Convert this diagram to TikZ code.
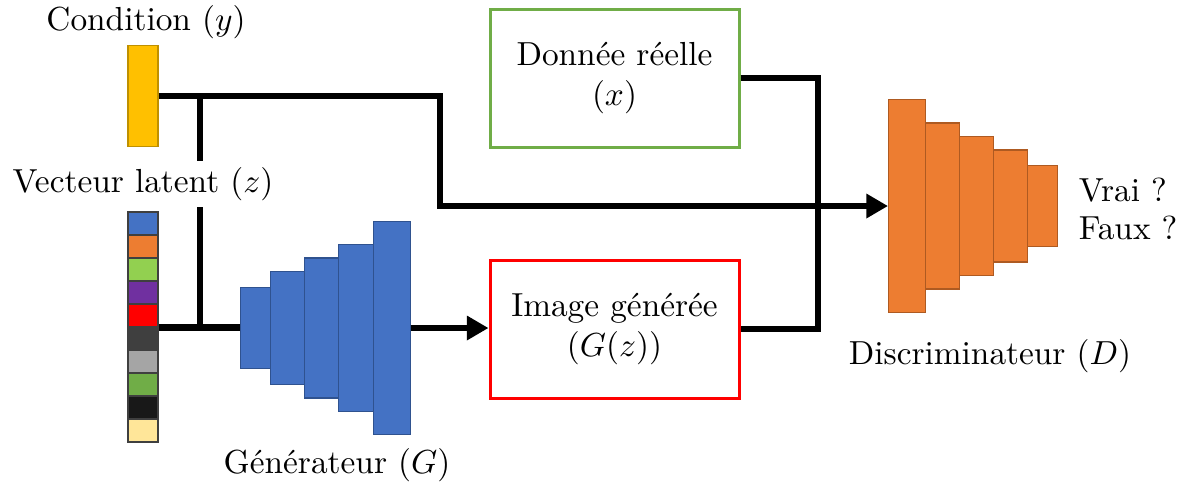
\documentclass[tikz,border=0pt]{standalone}
\usetikzlibrary{arrows.meta}
\usepackage{xcolor}

\definecolor{gblue}{HTML}{4472C4}
\definecolor{gblueedge}{HTML}{2F528F}
\definecolor{dorange}{HTML}{ED7D31}
\definecolor{dorangeedge}{HTML}{AE5A21}
\definecolor{condyellow}{HTML}{FFC000}
\definecolor{condedge}{HTML}{BF9000}
\definecolor{zlime}{HTML}{92D050}
\definecolor{zpurple}{HTML}{7030A0}
\definecolor{zred}{HTML}{FF0000}
\definecolor{zdark}{HTML}{3F3F3F}
\definecolor{zgray}{HTML}{A5A5A5}
\definecolor{zgreen}{HTML}{70AD47}
\definecolor{zblack}{HTML}{181818}
\definecolor{zcream}{HTML}{FFE699}
\definecolor{realgreen}{HTML}{70AD47}

\begin{document}
\begin{tikzpicture}[x=0.3pt,y=-0.3pt,
    wire/.style={line width=2pt},
    arrowwire/.style={wire,-{Triangle[length=6.5pt,width=7pt]}},
    gblock/.style={draw=gblueedge,fill=gblue,line width=0.4pt,anchor=west,inner sep=0pt},
    dblock/.style={draw=dorangeedge,fill=dorange,line width=0.4pt,anchor=west,inner sep=0pt},
    zcell/.style={draw=zdark,line width=0.4pt,minimum width=9pt,minimum height=6.9pt,inner sep=0pt},
    databox/.style={line width=0.9pt,minimum width=74.7pt,minimum height=41.4pt,align=center}]
    \useasboundingbox (0,0) rectangle (1186,487);

    % condition y
    \node[draw=condedge,fill=condyellow,line width=0.4pt,minimum width=9pt,minimum height=30.3pt,inner sep=0pt] (cond) at (143,96) {};
    \node (condlabel) at (146,22) {Condition $(y)$};

    % latent vector z
    \foreach \c [count=\i from 0] in {gblue,dorange,zlime,zpurple,zred,zdark,zgray,zgreen,zblack,zcream}
        \node[zcell,fill=\c] (z\i) at (143,{223.5+23*\i}) {};

    % generator G
    \foreach \n/\l/\w/\h in {1/240/30/81, 2/270/34/113, 3/304/34/140, 4/338/35/167, 5/373/37/213}
        \node[gblock,minimum width=\w*0.3pt,minimum height=\h*0.3pt] (g\n) at (\l,328) {};
    \node (glabel) at (337,465) {G\'en\'erateur $(G)$};

    % discriminator D
    \foreach \n/\l/\w/\h in {1/888/37/213, 2/925/34/166, 3/959/34/139, 4/993/34/112, 5/1027/30/81}
        \node[dblock,minimum width=\w*0.3pt,minimum height=\h*0.3pt] (d\n) at (\l,206) {};
    \node (dlabel) at (990,356) {Discriminateur $(D)$};
    \node[anchor=west] (vrai) at (1067,190) {Vrai ?};
    \node[anchor=west] (faux) at (1067,228) {Faux ?};

    % data boxes
    \node[databox,draw=realgreen] (real) at (614.5,78) {Donn\'ee r\'eelle\\$(x)$};
    \node[databox,draw=zred] (img) at (614.5,329) {Image g\'en\'er\'ee\\$(G(z))$};

    % wires
    \coordinate (bend) at (440,150);
    \coordinate (split) at (200,150);
    \coordinate (merge) at (818,206);
    \draw[arrowwire] (cond.east) -| (bend) |- (d1.west);
    \draw[wire] (split |- cond.east) -- (split |- z4.south east);
    \draw[wire] (z4.south east) -- (z4.south east -| g1.west);
    \draw[arrowwire] (g5.east) -- (g5.east -| img.west);
    \draw[wire] (real.east) -| (merge) |- (img.east);

    \node[fill=white,inner sep=2pt] (zlabel) at (143,184) {Vecteur latent $(z)$};
\end{tikzpicture}
\end{document}
